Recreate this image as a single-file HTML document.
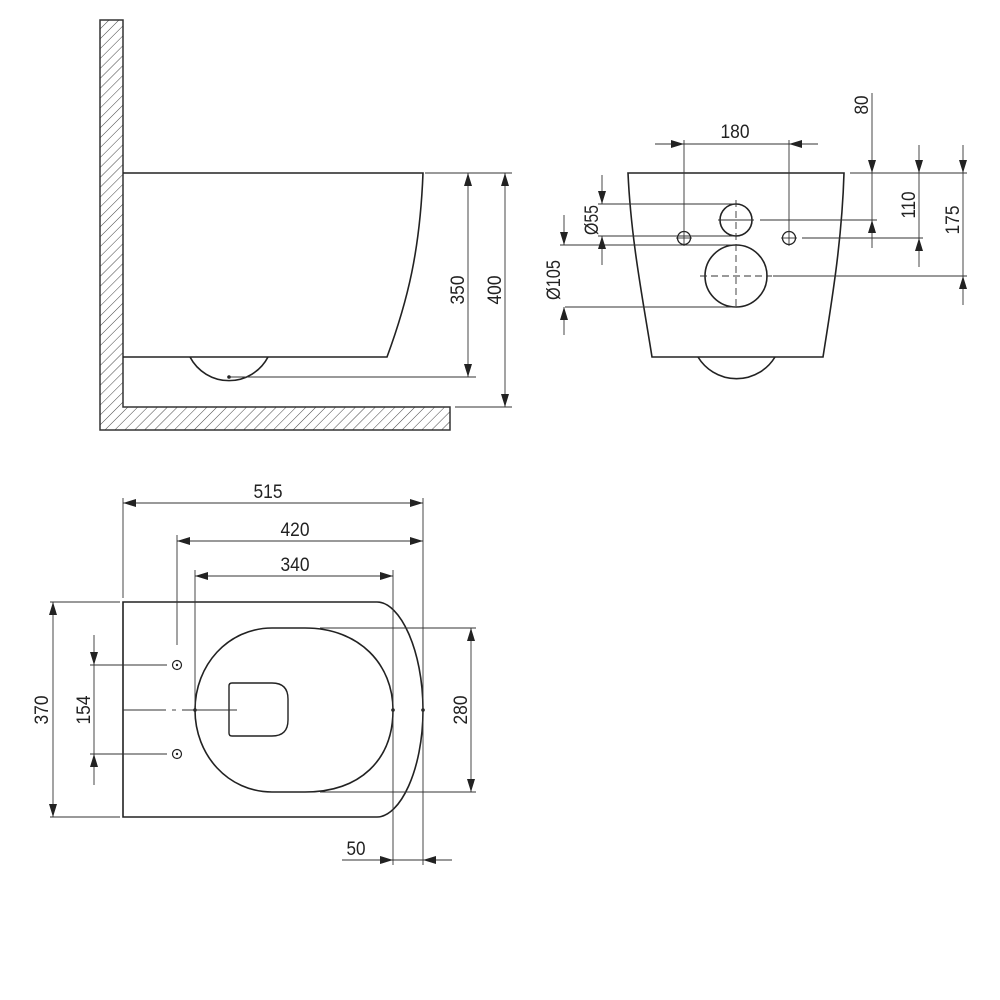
<!DOCTYPE html>
<html><head><meta charset="utf-8"><style>
html,body{margin:0;padding:0;background:#fff;}
svg{display:block;}
text{font-family:"Liberation Sans Narrow","Liberation Sans",sans-serif;font-size:19px;fill:#222;}
</style></head><body>
<svg width="1000" height="1000" viewBox="0 0 1000 1000" xmlns="http://www.w3.org/2000/svg">
<defs>
<marker id="a" markerUnits="userSpaceOnUse" markerWidth="14" markerHeight="10" refX="13" refY="4" orient="auto-start-reverse">
<path d="M0,0 L13,4 L0,8 z" fill="#222"/>
</marker>
<pattern id="h" patternUnits="userSpaceOnUse" width="7" height="7" patternTransform="rotate(45)">
<line x1="0" y1="0" x2="0" y2="7" stroke="#444" stroke-width="1"/>
</pattern>
</defs>

<!-- ===== Side view ===== -->
<path d="M100,20 L123,20 L123,407 L450,407 L450,430 L100,430 Z" fill="url(#h)" stroke="#333" stroke-width="1.5"/>
<g fill="none" stroke="#222" stroke-width="1.6">
<path d="M123,173 L423,173 C420,250 408,300 387,357 L123,357"/>
<path d="M190,357 A44,44 0 0 0 268,357"/>
</g>
<circle cx="229" cy="377" r="1.8" fill="#222"/>
<g stroke="#333" stroke-width="0.9" fill="none">
<line x1="229" y1="377" x2="476" y2="377"/>
<line x1="425" y1="173" x2="512" y2="173"/>
<line x1="455" y1="407" x2="512" y2="407"/>
<line x1="468" y1="173" x2="468" y2="377" marker-start="url(#a)" marker-end="url(#a)"/>
<line x1="505" y1="173" x2="505" y2="407" marker-start="url(#a)" marker-end="url(#a)"/>
</g>
<text transform="translate(464,290) rotate(-90)" text-anchor="middle" textLength="29" lengthAdjust="spacingAndGlyphs">350</text>
<text transform="translate(501,290) rotate(-90)" text-anchor="middle" textLength="29" lengthAdjust="spacingAndGlyphs">400</text>

<!-- ===== Front view ===== -->
<g fill="none" stroke="#222" stroke-width="1.6">
<path d="M628,173 L844,173 C842,240 832,300 823,357 L652,357 C643,300 631,240 628,173 Z"/>
<path d="M698,357 A45,45 0 0 0 775,357"/>
<circle cx="736" cy="220" r="16"/>
<circle cx="736" cy="276" r="31"/>
<circle cx="684" cy="238" r="6.5" stroke-width="1.3"/>
<circle cx="789" cy="238" r="6.5" stroke-width="1.3"/>
</g>
<g stroke="#333" stroke-width="0.9" fill="none">
<line x1="676" y1="238" x2="692" y2="238"/><line x1="684" y1="230" x2="684" y2="246"/>
<line x1="781" y1="238" x2="797" y2="238"/><line x1="789" y1="230" x2="789" y2="246"/>
<line x1="736" y1="200" x2="736" y2="310" stroke-dasharray="7,4"/>
<line x1="718" y1="220" x2="754" y2="220"/>
<line x1="700" y1="276" x2="772" y2="276" stroke-dasharray="7,4"/>
<line x1="684" y1="140" x2="684" y2="230"/>
<line x1="789" y1="140" x2="789" y2="230"/>
<line x1="655" y1="144" x2="684" y2="144" marker-end="url(#a)"/>
<line x1="818" y1="144" x2="789" y2="144" marker-end="url(#a)"/>
<line x1="684" y1="144" x2="789" y2="144"/>
<line x1="850" y1="173" x2="967" y2="173"/>
<line x1="760" y1="220" x2="877" y2="220"/>
<line x1="802" y1="238" x2="923" y2="238"/>
<line x1="773" y1="276" x2="967" y2="276"/>
<line x1="872" y1="93" x2="872" y2="173" marker-end="url(#a)"/>
<line x1="872" y1="248" x2="872" y2="220" marker-end="url(#a)"/>
<line x1="872" y1="173" x2="872" y2="220"/>
<line x1="919" y1="145" x2="919" y2="173" marker-end="url(#a)"/>
<line x1="919" y1="267" x2="919" y2="238" marker-end="url(#a)"/>
<line x1="919" y1="173" x2="919" y2="238"/>
<line x1="963" y1="145" x2="963" y2="173" marker-end="url(#a)"/>
<line x1="963" y1="305" x2="963" y2="276" marker-end="url(#a)"/>
<line x1="963" y1="173" x2="963" y2="276"/>
<line x1="598" y1="204" x2="736" y2="204"/>
<line x1="598" y1="236" x2="736" y2="236"/>
<line x1="560" y1="245" x2="736" y2="245"/>
<line x1="565" y1="307" x2="736" y2="307"/>
<line x1="602" y1="175" x2="602" y2="204" marker-end="url(#a)"/>
<line x1="602" y1="265" x2="602" y2="236" marker-end="url(#a)"/>
<line x1="564" y1="215" x2="564" y2="245" marker-end="url(#a)"/>
<line x1="564" y1="335" x2="564" y2="307" marker-end="url(#a)"/>
</g>
<text x="735" y="138" text-anchor="middle" textLength="29" lengthAdjust="spacingAndGlyphs">180</text>
<text transform="translate(868,105) rotate(-90)" text-anchor="middle" textLength="19" lengthAdjust="spacingAndGlyphs">80</text>
<text transform="translate(915,205) rotate(-90)" text-anchor="middle" textLength="27" lengthAdjust="spacingAndGlyphs">110</text>
<text transform="translate(959,220) rotate(-90)" text-anchor="middle" textLength="29" lengthAdjust="spacingAndGlyphs">175</text>
<text transform="translate(598,220) rotate(-90)" text-anchor="middle" textLength="30" lengthAdjust="spacingAndGlyphs">Ø55</text>
<text transform="translate(560,280) rotate(-90)" text-anchor="middle" textLength="40" lengthAdjust="spacingAndGlyphs">Ø105</text>

<!-- ===== Top view ===== -->
<g fill="none" stroke="#222" stroke-width="1.6">
<path d="M123,602 L377,602 C400,602 423,650 423,710 C423,770 400,817 377,817 L123,817 Z"/>
<path d="M272,628 L305,628 C360,628 393,665 393,710 C393,760 360,792 305,792 L272,792 C228,792 195,755 195,710 C195,665 228,628 272,628 Z"/>
<path d="M232,683 L272,683 Q288,683 288,699 L288,720 Q288,736 272,736 L232,736 Q229,736 229,733 L229,686 Q229,683 232,683 Z" stroke-width="1.4"/>
<circle cx="177" cy="665" r="4.5" stroke-width="1.2"/>
<circle cx="177" cy="754" r="4.5" stroke-width="1.2"/>
</g>
<circle cx="177" cy="665" r="1.2" fill="#222"/>
<circle cx="177" cy="754" r="1.2" fill="#222"/>
<circle cx="195" cy="710" r="1.8" fill="#222"/>
<circle cx="393" cy="710" r="1.8" fill="#222"/>
<circle cx="423" cy="710" r="1.8" fill="#222"/>
<g stroke="#333" stroke-width="0.9" fill="none">
<line x1="123" y1="710" x2="166" y2="710"/>
<line x1="172" y1="710" x2="176" y2="710"/>
<line x1="182" y1="710" x2="237" y2="710"/>
<line x1="123" y1="498" x2="123" y2="598"/>
<line x1="423" y1="498" x2="423" y2="865"/>
<line x1="123" y1="503" x2="423" y2="503" marker-start="url(#a)" marker-end="url(#a)"/>
<line x1="177" y1="535" x2="177" y2="645"/>
<line x1="177" y1="541" x2="423" y2="541" marker-start="url(#a)" marker-end="url(#a)"/>
<line x1="195" y1="570" x2="195" y2="706"/>
<line x1="393" y1="570" x2="393" y2="865"/>
<line x1="195" y1="576" x2="393" y2="576" marker-start="url(#a)" marker-end="url(#a)"/>
<line x1="50" y1="602" x2="120" y2="602"/>
<line x1="50" y1="817" x2="120" y2="817"/>
<line x1="53" y1="602" x2="53" y2="817" marker-start="url(#a)" marker-end="url(#a)"/>
<line x1="90" y1="665" x2="167" y2="665"/>
<line x1="90" y1="754" x2="167" y2="754"/>
<line x1="94" y1="635" x2="94" y2="665" marker-end="url(#a)"/>
<line x1="94" y1="785" x2="94" y2="754" marker-end="url(#a)"/>
<line x1="94" y1="665" x2="94" y2="754"/>
<line x1="320" y1="628" x2="476" y2="628"/>
<line x1="320" y1="792" x2="476" y2="792"/>
<line x1="471" y1="628" x2="471" y2="792" marker-start="url(#a)" marker-end="url(#a)"/>
<line x1="342" y1="860" x2="393" y2="860" marker-end="url(#a)"/>
<line x1="452" y1="860" x2="423" y2="860" marker-end="url(#a)"/>
<line x1="393" y1="860" x2="423" y2="860"/>
</g>
<text x="268" y="498" text-anchor="middle" textLength="29" lengthAdjust="spacingAndGlyphs">515</text>
<text x="295" y="536" text-anchor="middle" textLength="29" lengthAdjust="spacingAndGlyphs">420</text>
<text x="295" y="571" text-anchor="middle" textLength="29" lengthAdjust="spacingAndGlyphs">340</text>
<text transform="translate(48,710) rotate(-90)" text-anchor="middle" textLength="29" lengthAdjust="spacingAndGlyphs">370</text>
<text transform="translate(90,710) rotate(-90)" text-anchor="middle" textLength="29" lengthAdjust="spacingAndGlyphs">154</text>
<text transform="translate(467,710) rotate(-90)" text-anchor="middle" textLength="29" lengthAdjust="spacingAndGlyphs">280</text>
<text x="356" y="855" text-anchor="middle" textLength="19" lengthAdjust="spacingAndGlyphs">50</text>
</svg>
</body></html>
